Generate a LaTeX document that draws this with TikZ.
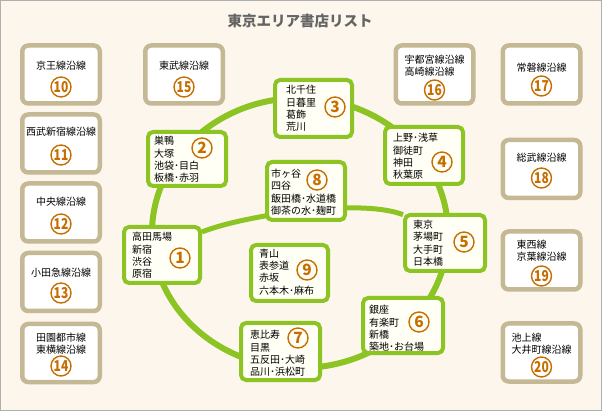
\documentclass[tikz,border=0pt]{standalone}
\usepackage{fontspec}
\newfontfamily\jp{Noto Sans CJK JP}
\definecolor{bg}{RGB}{253,246,236}
\definecolor{frame}{RGB}{175,175,175}
\definecolor{grn}{RGB}{140,196,36}
\definecolor{gfill}{RGB}{255,255,246}
\definecolor{khaki}{RGB}{196,185,148}
\definecolor{orng}{RGB}{198,110,0}
\definecolor{ttl}{RGB}{100,100,100}
\newcommand{\twonum}[1]{\scalebox{0.8}[1]{#1}}
\tikzset{
  gbox/.style={draw=grn, line width=4pt, fill=gfill, rounded corners=5pt, inner sep=0pt},
  lbox/.style={draw=khaki, line width=4.5pt, fill=white, rounded corners=6pt,
    minimum width=77.5pt, minimum height=58pt, inner sep=0pt},
  num/.style={circle, draw=orng, line width=1.4pt, minimum size=20pt, inner sep=0pt,
    text=orng, font=\jp\bfseries\fontsize{15.5}{15.5}\selectfont},
  numw/.style={num, font=\jp\bfseries\fontsize{15}{15}\selectfont},
  stn/.style={anchor=west, align=left, inner sep=0pt, font=\jp\fontsize{10}{12.4}\selectfont},
  lbl/.style={align=left, inner sep=0pt, font=\jp\fontsize{10}{11.7}\selectfont},
  ring/.style={draw=grn, line width=6pt},
  chord/.style={draw=grn, line width=5pt},
}
\begin{document}
\begin{tikzpicture}[x=1pt,y=-1pt]
\path[use as bounding box, fill=bg] (0,0) rectangle (602,411);
\draw[frame, line width=1pt] (0.5,0.5) rectangle (601.5,410.5);
\node[font=\jp\bfseries\fontsize{14.5}{14.5}\selectfont, text=ttl, inner sep=0pt] (title) at (300,21) {東京エリア書店リスト};

% ring
\draw[ring] (300,233) ellipse [x radius=148pt, y radius=135pt];

% green nodes
\node[gbox, minimum width=76pt, minimum height=56pt] (n1) at (162,255) {};
\node[gbox, minimum width=78pt, minimum height=54pt] (n2) at (187,159) {};
\node[gbox, minimum width=77pt, minimum height=57pt] (n3) at (313.5,108.5) {};
\node[gbox, minimum width=78pt, minimum height=57pt] (n4) at (424,155.5) {};
\node[gbox, minimum width=80pt, minimum height=56pt] (n5) at (445,243) {};
\node[gbox, minimum width=80pt, minimum height=55pt] (n6) at (403,325.5) {};
\node[gbox, minimum width=79pt, minimum height=57pt] (n7) at (280.5,351.5) {};
\node[gbox, minimum width=77pt, minimum height=56pt] (n9) at (289.5,273) {};

% chord (behind n8)
\draw[chord] (n1.30) .. controls (245,215) and (360,198) .. (n5.146);
\node[gbox, minimum width=78pt, minimum height=58pt] (n8) at (306,191) {};

% station texts
\node[stn] (t1) at (132,255.5) {高田馬場\\新宿\\渋谷\\原宿};
\node[stn] (t2) at (154,159.5) {巣鴨\\大塚\\池袋･目白\\板橋･赤羽};
\node[stn] (t3) at (286,108.5) {北千住\\日暮里\\葛飾\\荒川};
\node[stn] (t4) at (393,156.5) {上野･浅草\\御徒町\\神田\\秋葉原};
\node[stn] (t5) at (413,243) {東京\\茅場町\\大手町\\日本橋};
\node[stn] (t6) at (369,328.5) {銀座\\有楽町\\新橋\\築地･お台場};
\node[stn] (t7) at (250,353.5) {恵比寿\\目黒\\五反田･大崎\\品川･浜松町};
\node[stn] (t8) at (271,192) {市ヶ谷\\四谷\\飯田橋･水道橋\\御茶の水･麹町};
\node[stn] (t9) at (259,272) {青山\\表参道\\赤坂\\六本木･麻布};

% numbers in green nodes
\node[num] (c1) at (180,258) {1};
\node[num] (c2) at (202,148) {2};
\node[num] (c3) at (335,107) {3};
\node[num] (c4) at (442,162) {4};
\node[num] (c5) at (464,242) {5};
\node[num] (c6) at (419,322) {6};
\node[num] (c7) at (298,338) {7};
\node[num] (c8) at (317,180) {8};
\node[num] (c9) at (307,270) {9};

% line boxes
\node[lbox] (b10) at (61,74.5) {};
\node[lbox] (b11) at (61,143.5) {};
\node[lbox] (b12) at (61,212.5) {};
\node[lbox] (b13) at (61,282) {};
\node[lbox] (b14) at (61,353) {};
\node[lbox] (b15) at (184,74.5) {};
\node[lbox] (b16) at (434.5,74.5) {};
\node[lbox] (b17) at (541.5,74.5) {};
\node[lbox] (b18) at (541.5,169) {};
\node[lbox] (b19) at (541.5,260.5) {};
\node[lbox] (b20) at (541.5,352.5) {};

\node[lbl] (l10) at (61,66) {京王線沿線};
\node[lbl] (l11) at (61,132) {西武新宿線沿線};
\node[lbl] (l12) at (61,202) {中央線沿線};
\node[lbl] (l13) at (61,273) {小田急線沿線};
\node[lbl] (l14) at (61,343.5) {田園都市線\\東横線沿線};
\node[lbl] (l15) at (184,66) {東武線沿線};
\node[lbl] (l16) at (434.5,65.5) {宇都宮線沿線\\高崎線沿線};
\node[lbl] (l17) at (541.5,68) {常磐線沿線};
\node[lbl] (l18) at (541.5,158) {総武線沿線};
\node[lbl] (l19) at (541.5,250.5) {東西線\\京葉線沿線};
\node[lbl] (l20) at (541.5,343.5) {池上線\\大井町線沿線};

\node[numw] (c10) at (61,87) {\twonum{10}};
\node[numw] (c11) at (61,155) {\twonum{11}};
\node[numw] (c12) at (61,224) {\twonum{12}};
\node[numw] (c13) at (61,293) {\twonum{13}};
\node[numw] (c14) at (61,366) {\twonum{14}};
\node[numw] (c15) at (184,87) {\twonum{15}};
\node[numw] (c16) at (434.5,90) {\twonum{16}};
\node[numw] (c17) at (541.5,86) {\twonum{17}};
\node[numw] (c18) at (541.5,178) {\twonum{18}};
\node[numw] (c19) at (541.5,276) {\twonum{19}};
\node[numw] (c20) at (541.5,367) {\twonum{20}};
\end{tikzpicture}
\end{document}
